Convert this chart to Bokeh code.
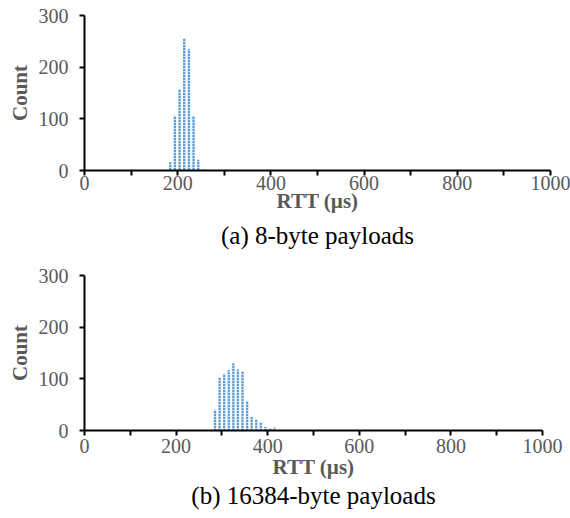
from bokeh.plotting import figure
from bokeh.layouts import column
from bokeh.models import Range1d, FixedTicker, Title, ColumnDataSource
from bokeh.embed import file_html
from bokeh.resources import INLINE

# Data
rtt_a = [184, 194, 204, 214, 224, 234, 244, 254, 274]
count_a = [16, 106, 157, 255, 235, 105, 21, 2, 1]

rtt_b = [285, 295, 305, 315, 325, 335, 345, 355, 365, 375, 385, 395, 405, 415]
count_b = [40, 102, 110, 117, 130, 118, 114, 56, 26, 21, 16, 7, 5, 6]

x_ticks = [0, 200, 400, 600, 800, 1000]
x_minor = [100, 300, 500, 700, 900]
y_ticks = [0, 100, 200, 300]
caption_a = "(a) 8-byte payloads"
caption_b = "(b) 16384-byte payloads"

FONT = "Liberation Serif"
GRAY = "#595959"
BAR = "#5B9BD5"


def make_panel(xs, ys, caption, frame_w, top, bottom, lab_so, ax_so, t_so):
    p = figure(frame_width=frame_w, frame_height=155, output_backend="svg",
               toolbar_location=None, x_range=Range1d(0, 1000), y_range=Range1d(0, 300),
               min_border_left=84, min_border_right=570 - 84 - frame_w,
               min_border_top=top, min_border_bottom=bottom)
    p.outline_line_color = None
    p.xgrid.visible = False
    p.ygrid.visible = False
    p.background_fill_color = "white"
    p.border_fill_color = "white"

    src = ColumnDataSource(dict(x=xs, top=ys))
    p.vbar(x="x", top="top", width=5, source=src, fill_color=BAR, line_color=None,
           hatch_pattern="horizontal_line", hatch_color="white", hatch_weight=1,
           hatch_scale=3, hatch_alpha=0.7)

    xa = p.xaxis[0]
    xa.ticker = FixedTicker(ticks=x_ticks, minor_ticks=x_minor)
    xa.axis_label = "RTT (µs)"
    ya = p.yaxis[0]
    ya.ticker = FixedTicker(ticks=y_ticks)
    ya.axis_label = "Count"
    for ax in (xa, ya):
        ax.axis_line_color = "black"
        ax.axis_line_width = 2
        ax.major_tick_line_color = "black"
        ax.major_tick_line_width = 2
        ax.minor_tick_line_color = "black"
        ax.minor_tick_line_width = 2
        ax.major_tick_in = 0
        ax.major_tick_out = 5
        ax.minor_tick_in = 0
        ax.minor_tick_out = 5
        ax.major_label_text_font = FONT
        ax.major_label_text_font_size = "20px"
        ax.major_label_text_color = GRAY
        ax.axis_label_text_font = FONT
        ax.axis_label_text_font_size = "21px"
        ax.axis_label_text_font_style = "bold"
        ax.axis_label_text_color = GRAY
    xa.major_label_standoff = lab_so
    xa.axis_label_standoff = ax_so
    ya.major_label_standoff = 11
    ya.axis_label_standoff = 4

    t = Title(text=caption, align="center", text_font=FONT, text_font_size="25px",
              text_font_style="normal", text_color="black", standoff=t_so)
    p.add_layout(t, "below")
    return p


pa = make_panel(rtt_a, count_a, caption_a, 466, 15, 88, 0, -4, 8)
pb = make_panel(rtt_b, count_b, caption_b, 458, 17, 88, 3, -1, -3)

layout = column(pa, pb, spacing=0)
open("out.html", "w").write(file_html(layout, INLINE))
